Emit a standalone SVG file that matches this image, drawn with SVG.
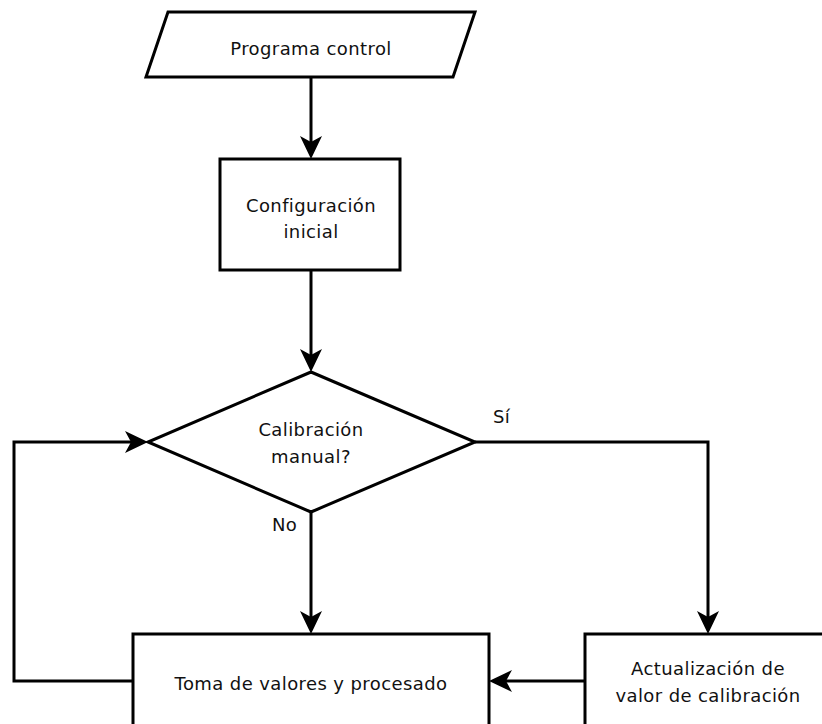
<svg xmlns="http://www.w3.org/2000/svg" width="822" height="724" viewBox="0 0 822 724">
  <style>
    .shape { fill: #ffffff; stroke: #000000; stroke-width: 3; }
    .edge { fill: none; stroke: #000000; stroke-width: 3; }
    .label { font-family: "DejaVu Sans", Verdana, sans-serif; font-size: 18px; letter-spacing: 0.4px; fill: #111111; text-anchor: middle; }
    .tag { font-family: "DejaVu Sans", Verdana, sans-serif; font-size: 18px; letter-spacing: 0.4px; fill: #111111; }
  </style>
  <defs>
    <marker id="arrow" markerUnits="userSpaceOnUse" markerWidth="24" markerHeight="26" viewBox="0 -12 24 24" refX="6" refY="0" orient="auto">
      <path d="M23,0 L0,-11 L6,0 L0,11 Z" fill="#000000"/>
    </marker>
  </defs>

  <rect width="822" height="724" fill="#ffffff"/>

  <g id="connectors">
    <!-- start to setup -->
    <path class="edge" d="M311,77 L311,142" marker-end="url(#arrow)"/>
    <!-- setup to decision -->
    <path class="edge" d="M311,270 L311,355" marker-end="url(#arrow)"/>
    <!-- decision "No" branch -->
    <path class="edge" d="M311,512 L311,617" marker-end="url(#arrow)"/>
    <!-- decision "Sí" branch -->
    <path class="edge" d="M475,442 L708,442 L708,617" marker-end="url(#arrow)"/>
    <!-- update back to processing -->
    <path class="edge" d="M585,681 L506,681" marker-end="url(#arrow)"/>
    <!-- loop back to decision -->
    <path class="edge" d="M133,681 L14,681 L14,442 L131,442" marker-end="url(#arrow)"/>
    <text class="tag" x="493" y="423">Sí</text>
    <text class="tag" x="272" y="531">No</text>
  </g>

  <g id="programa-control">
    <polygon class="shape" points="168,12 475,12 453,77 146,77"/>
    <text class="label" x="311" y="55">Programa control</text>
  </g>

  <g id="configuracion-inicial">
    <rect class="shape" x="220" y="159" width="180" height="111"/>
    <text class="label" x="311" y="212">Configuración</text>
    <text class="label" x="311" y="238">inicial</text>
  </g>

  <g id="calibracion-manual">
    <polygon class="shape" points="311,372 475,442 311,512 148,442"/>
    <text class="label" x="311" y="436">Calibración</text>
    <text class="label" x="311" y="463">manual?</text>
  </g>

  <g id="toma-de-valores">
    <rect class="shape" x="133" y="634" width="356" height="110"/>
    <text class="label" x="311" y="690">Toma de valores y procesado</text>
  </g>

  <g id="actualizacion-calibracion">
    <rect class="shape" x="585" y="634" width="246" height="110"/>
    <text class="label" x="708" y="675">Actualización de</text>
    <text class="label" x="708" y="702">valor de calibración</text>
  </g>
</svg>
